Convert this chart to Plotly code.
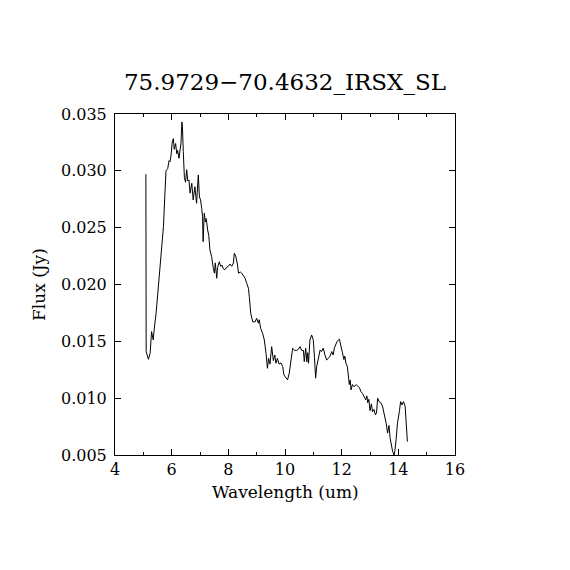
import plotly.graph_objects as go

# ---------- data ----------
wavelength = [
    5.09, 5.10, 5.18, 5.24, 5.29, 5.35, 5.38, 5.45, 5.53, 5.59,
    5.65, 5.71, 5.76, 5.80, 5.86, 5.91, 5.94, 5.98, 6.02, 6.06,
    6.09, 6.14, 6.18, 6.21, 6.26, 6.29, 6.33, 6.36, 6.38, 6.41,
    6.45, 6.49, 6.53, 6.57, 6.61, 6.65, 6.71, 6.76, 6.82, 6.88,
    6.94, 6.98, 7.02, 7.06, 7.09, 7.11, 7.15, 7.19, 7.22, 7.27,
    7.31, 7.35, 7.41, 7.47, 7.51, 7.54, 7.59, 7.62, 7.68, 7.73,
    7.78, 7.82, 7.88, 7.94, 8.00, 8.06, 8.12, 8.18, 8.21, 8.26,
    8.32, 8.36, 8.42, 8.47, 8.53, 8.59, 8.65, 8.71, 8.74, 8.79,
    8.86, 8.94, 9.00, 9.06, 9.09, 9.14, 9.21, 9.27, 9.33, 9.38,
    9.42, 9.47, 9.53, 9.59, 9.64, 9.68, 9.73, 9.79, 9.86, 9.92,
    9.96, 10.03, 10.09, 10.15, 10.21, 10.27, 10.35, 10.41, 10.47, 10.53,
    10.59, 10.65, 10.68, 10.73, 10.77, 10.80, 10.83, 10.88, 10.94, 11.00,
    11.04, 11.08, 11.12, 11.18, 11.24, 11.29, 11.35, 11.41, 11.47, 11.53,
    11.59, 11.65, 11.70, 11.74, 11.80, 11.84, 11.92, 11.96, 12.02, 12.08,
    12.11, 12.15, 12.20, 12.24, 12.27, 12.30, 12.33, 12.38, 12.44, 12.51,
    12.57, 12.63, 12.68, 12.74, 12.80, 12.85, 12.89, 12.92, 12.96, 13.00,
    13.05, 13.09, 13.14, 13.19, 13.23, 13.27, 13.32, 13.38, 13.44, 13.50,
    13.57, 13.62, 13.67, 13.71, 13.75, 13.80, 13.85, 13.88, 13.92, 13.97,
    14.04, 14.08, 14.13, 14.18, 14.24, 14.27, 14.32,
]
flux = [
    0.0297, 0.0141, 0.01342, 0.01395, 0.01585, 0.01512, 0.0160, 0.01747, 0.0198, 0.0214,
    0.02333, 0.02509, 0.02788, 0.0300, 0.0302, 0.0309, 0.0308, 0.0314, 0.03254, 0.03283,
    0.0319, 0.0324, 0.0315, 0.0318, 0.0311, 0.0317, 0.0325, 0.0343, 0.0339, 0.0317,
    0.0294, 0.0290, 0.0301, 0.0291, 0.0292, 0.02803, 0.0289, 0.02744, 0.0286, 0.02715,
    0.02964, 0.0277, 0.02744, 0.0267, 0.02597, 0.02377, 0.02627, 0.0255, 0.0258, 0.0248,
    0.0243, 0.02304, 0.02245, 0.02143, 0.0210, 0.0219, 0.02055, 0.0215, 0.0220, 0.0216,
    0.0217, 0.0214, 0.0213, 0.0215, 0.0216, 0.0218, 0.0216, 0.0219, 0.02275, 0.0225,
    0.0218, 0.0210, 0.0211, 0.0210, 0.0208, 0.02055, 0.0201, 0.01967, 0.01893, 0.01747,
    0.01673, 0.0167, 0.01703, 0.0166, 0.0169, 0.01615, 0.0157, 0.01512, 0.01395, 0.01263,
    0.0135, 0.0130, 0.01453, 0.0133, 0.0138, 0.01307, 0.0135, 0.0130, 0.0131, 0.01278,
    0.01205, 0.0118, 0.01161, 0.0122, 0.01336, 0.01439, 0.0142, 0.0142, 0.0143, 0.01453,
    0.0142, 0.0142, 0.01322, 0.0144, 0.0132, 0.0140, 0.01307, 0.01512, 0.01556, 0.0151,
    0.0136, 0.01176, 0.0128, 0.0137, 0.01424, 0.0141, 0.0144, 0.0138, 0.01336, 0.0135,
    0.0137, 0.0141, 0.0138, 0.0144, 0.01468, 0.0150, 0.01519, 0.0147, 0.0141, 0.0134,
    0.0137, 0.01307, 0.0128, 0.01147, 0.0112, 0.0116, 0.01073, 0.0112, 0.0110, 0.0112,
    0.0110, 0.0109, 0.01058, 0.0104, 0.0101, 0.00985, 0.0102, 0.0096, 0.0099, 0.0089,
    0.0095, 0.0088, 0.0090, 0.00853, 0.0087, 0.0100, 0.0097, 0.0096, 0.0093, 0.0087,
    0.0078, 0.00692, 0.0076, 0.00648, 0.00574, 0.0053, 0.0050, 0.0054, 0.00633, 0.0078,
    0.0089, 0.0097, 0.0094, 0.0097, 0.0093, 0.0082, 0.00618,
]

title_text = "75.9729\u221270.4632_IRSX_SL"
x_label = "Wavelength (um)"
y_label = "Flux (Jy)"

FONT = "DejaVu Serif"
W = H = 562  # page body adds an 8px offset, so the figure is a bit smaller than the window

fig = go.Figure()
fig.add_trace(go.Scatter(x=wavelength, y=flux, mode="lines",
                         line=dict(color="black", width=1), showlegend=False))

axis_common = dict(showline=True, linecolor="black", linewidth=1, mirror="ticks",
                   ticks="inside", tickcolor="black", tickwidth=1, ticklen=6,
                   showgrid=False, zeroline=False,
                   tickfont=dict(family=FONT, size=16, color="black"))

fig.update_xaxes(range=[4, 16], tickmode="linear", tick0=4, dtick=2,
                 minor=dict(dtick=1, ticklen=3, ticks="inside", tickcolor="black", showgrid=False),
                 **axis_common)
fig.update_yaxes(range=[0.005, 0.035], tickmode="linear", tick0=0.005, dtick=0.005,
                 tickformat=".3f", ticklabelstandoff=4, **axis_common)

# axis titles placed like the reference
fig.add_annotation(text=x_label, xref="paper", yref="paper", x=0.5, y=-0.108,
                   xanchor="center", yanchor="middle", showarrow=False,
                   font=dict(family=FONT, size=17, color="black"))
fig.add_annotation(text=y_label, xref="paper", yref="paper", x=-0.225, y=0.5,
                   xanchor="center", yanchor="middle", showarrow=False, textangle=-90,
                   font=dict(family=FONT, size=17, color="black"))

fig.update_layout(
    width=W, height=H,
    margin=dict(l=107, r=115, t=106, b=115),
    plot_bgcolor="white", paper_bgcolor="white",
    title=dict(text=title_text, x=(285 - 8) / W, xanchor="center",
               y=1 - (82 - 8) / H, yanchor="middle",
               font=dict(family=FONT, size=23, color="black")),
    font=dict(family=FONT, color="black"),
)

fig.write_html("out.html")
